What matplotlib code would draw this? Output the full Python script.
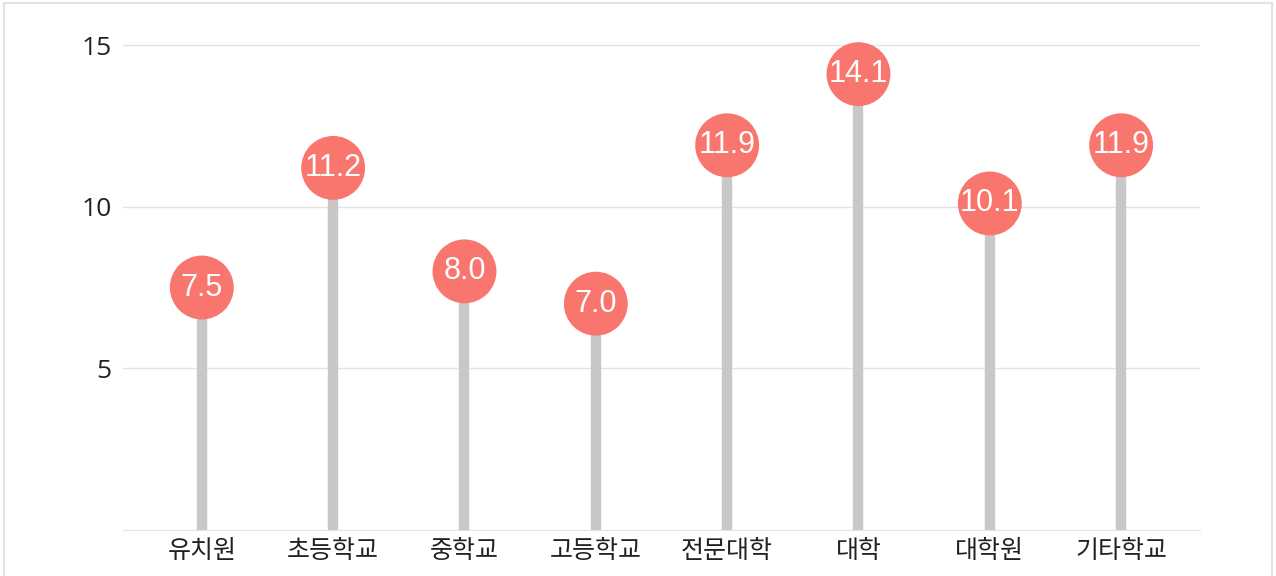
import matplotlib.pyplot as plt
from matplotlib.patches import Rectangle

plt.rcParams['font.family'] = ['Noto Sans CJK KR', 'DejaVu Sans']

categories = ['유치원', '초등학교', '중학교', '고등학교', '전문대학', '대학', '대학원', '기타학교']
values = [7.5, 11.2, 8.0, 7.0, 11.9, 14.1, 10.1, 11.9]
yticks = [5, 10, 15]

fig = plt.figure(figsize=(12.76, 5.76), dpi=100)
ax = fig.add_axes([0.0964, 0.0799, 0.844, 0.898])

x = list(range(len(categories)))
ax.vlines(x, 0, values, color='#c8c8c8', linewidth=7.5, zorder=2)
ax.scatter(x, values, s=46 ** 2, color='#f8766d', edgecolors='none', zorder=3)
for xi, v in zip(x, values):
    ax.text(xi, v, f'{v:.1f}', color='white', fontsize=22, ha='center', va='center',
            family=['Liberation Sans', 'DejaVu Sans'], zorder=4)

ax.set_xlim(-0.6, len(categories) - 0.4)
ax.set_ylim(0, 16)
ax.set_xticks(x)
ax.set_xticklabels(categories, fontsize=18, color='#222222')
ax.set_yticks(yticks)
ax.set_yticklabels([str(t) for t in yticks], fontsize=19, color='#222222',
                   family=['Open Sans', 'DejaVu Sans'])
ax.tick_params(axis='y', length=0, pad=8)
ax.tick_params(axis='x', length=0, pad=6)
ax.grid(axis='y', color='#e3e3e3', linewidth=1)
ax.set_axisbelow(True)
for s in ['top', 'right', 'left']:
    ax.spines[s].set_visible(False)
ax.spines['bottom'].set_color('#e3e3e3')

fig.patches.append(Rectangle((0.0035, -0.1), 0.993, 1.095, transform=fig.transFigure,
                             fill=False, edgecolor='#e3e3e3', linewidth=1.5))

plt.savefig('out.png')
plt.close()
